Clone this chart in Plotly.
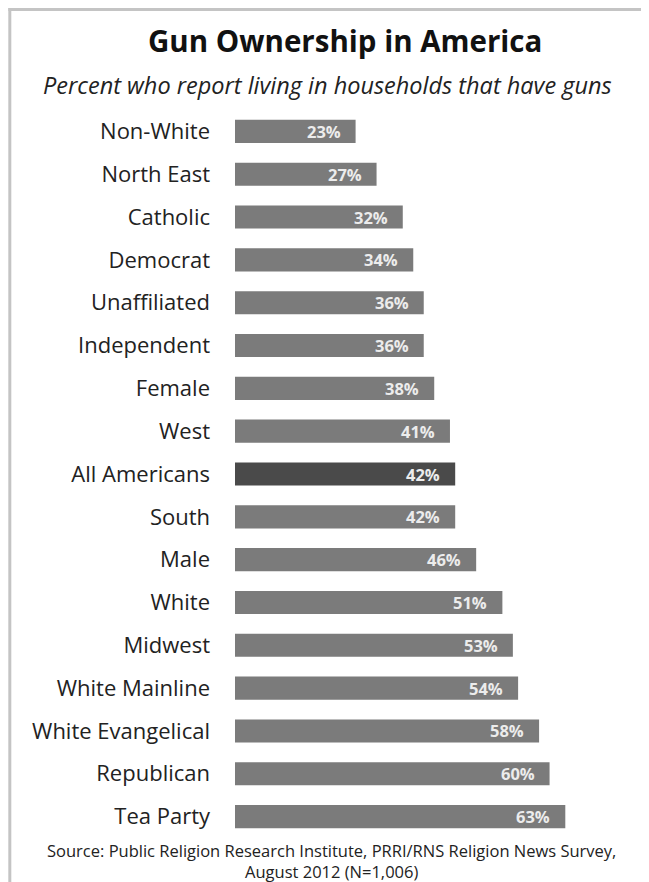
import plotly.graph_objects as go

categories = ["Non-White", "North East", "Catholic", "Democrat", "Unaffiliated",
              "Independent", "Female", "West", "All Americans", "South", "Male",
              "White", "Midwest", "White Mainline", "White Evangelical",
              "Republican", "Tea Party"]
values = [23, 27, 32, 34, 36, 36, 38, 41, 42, 42, 46, 51, 53, 54, 58, 60, 63]
highlight = "All Americans"

title = "Gun Ownership in America"
subtitle = "Percent who report living in households that have guns"
source = "Source: Public Religion Research Institute, PRRI/RNS Religion News Survey,<br>August 2012 (N=1,006)"

# page offset (browser body margin) compensation
OFF = 8
W, H = 649 - OFF, 882 - OFF
# screen-pixel geometry of plot area
SX0, SX1 = 235, 235 + 5.25 * 70
SY0, SY1 = 110, 838
L, T = SX0 - OFF, SY0 - OFF
R = W - (SX1 - OFF)
B = H - (SY1 - OFF)
pw, ph = SX1 - SX0, SY1 - SY0

def px(x):
    return (x - SX0) / pw

def py(y):
    return (SY1 - y) / ph

colors = ["#4a4a4a" if c == highlight else "#7b7b7b" for c in categories]
FONT = "'Open Sans', sans-serif"

fig = go.Figure(go.Bar(
    x=values, y=categories, orientation="h",
    marker=dict(color=colors, line=dict(width=0)),
    hoverinfo="skip",
))

annotations = []
for c, v in zip(categories, values):
    annotations.append(dict(
        x=v, y=c, xref="x", yref="y", text=f"<b>{v}%</b>",
        showarrow=False, xanchor="right", xshift=-13,
        font=dict(family=FONT, size=16.5, color="#ececec"),
    ))

annotations += [
    dict(x=px(345), y=py(41), xref="paper", yref="paper", text=f"<b>{title}</b>",
         showarrow=False, xanchor="center", yanchor="middle",
         font=dict(family=FONT, size=29.5, color="#111111")),
    dict(x=px(328), y=py(85), xref="paper", yref="paper", text=f"<i>{subtitle}</i>",
         showarrow=False, xanchor="center", yanchor="middle",
         font=dict(family=FONT, size=23.5, color="#222222")),
    dict(x=px(332), y=py(861), xref="paper", yref="paper", text=source,
         showarrow=False, xanchor="center", yanchor="middle", align="center",
         font=dict(family=FONT, size=16.5, color="#222222")),
]

shapes = [
    dict(type="line", xref="paper", yref="paper", x0=px(8), x1=px(670), y0=py(9.5), y1=py(9.5),
         line=dict(color="#c4c4c4", width=3)),
    dict(type="line", xref="paper", yref="paper", x0=px(9.5), x1=px(9.5), y0=py(8), y1=py(900),
         line=dict(color="#c4c4c4", width=3)),
]

fig.update_layout(
    width=W, height=H,
    margin=dict(l=L, r=R, t=T, b=B, pad=0),
    paper_bgcolor="white", plot_bgcolor="white",
    bargap=0.46,
    showlegend=False,
    annotations=annotations,
    shapes=shapes,
    xaxis=dict(range=[0, 70], visible=False, fixedrange=True),
    yaxis=dict(autorange="reversed", showgrid=False, showline=False, zeroline=False,
               ticks="", ticklabelstandoff=24,
               tickfont=dict(family=FONT, size=22, color="#222222"), fixedrange=True),
    font=dict(family=FONT),
)

fig.write_html("out.html", config={"displayModeBar": False})
